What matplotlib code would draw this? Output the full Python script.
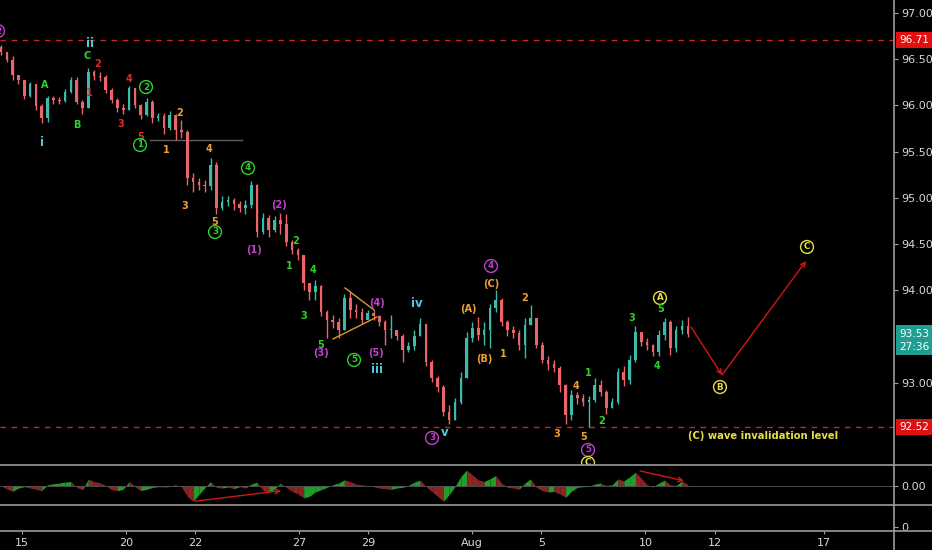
import matplotlib
matplotlib.use('Agg')
import matplotlib.pyplot as plt
from matplotlib.lines import Line2D
from matplotlib.transforms import blended_transform_factory as btf
import numpy as np

# ---------------- data ----------------
first_open = 96.63
closes = [96.58, 96.49, 96.33, 96.28, 96.10, 96.23, 95.99, 95.86, 96.08, 96.06,
          96.05, 96.15, 96.28, 96.04, 95.97, 96.36, 96.32, 96.31, 96.17, 96.06,
          95.97, 95.95, 96.19, 96.00, 95.90, 96.04, 95.86, 95.89, 95.76, 95.90,
          95.73, 95.71, 95.21, 95.17, 95.14, 95.13, 95.36, 94.89, 94.96, 94.98,
          94.93, 94.89, 94.92, 95.14, 94.63, 94.78, 94.65, 94.76, 94.72, 94.52,
          94.44, 94.38, 94.08, 93.98, 94.05, 93.76, 93.68, 93.66, 93.57, 93.92,
          93.79, 93.76, 93.68, 93.75, 93.72, 93.66, 93.57, 93.57, 93.50, 93.35,
          93.40, 93.50, 93.63, 93.22, 93.05, 92.95, 92.68, 92.60, 92.79, 93.05,
          93.48, 93.59, 93.51, 93.57, 93.81, 93.89, 93.66, 93.57, 93.54, 93.41,
          93.62, 93.70, 93.41, 93.24, 93.20, 93.16, 92.97, 92.65, 92.87, 92.83,
          92.79, 92.81, 92.97, 92.90, 92.72, 92.79, 93.11, 93.03, 93.24, 93.55,
          93.44, 93.41, 93.33, 93.51, 93.66, 93.37, 93.57, 93.61, 93.53]
highs = [96.65, 96.58, 96.53, 96.32, 96.28, 96.25, 96.23, 96.02, 96.10, 96.10,
         96.09, 96.18, 96.31, 96.31, 96.06, 96.40, 96.38, 96.36, 96.33, 96.19,
         96.08, 96.02, 96.21, 96.19, 96.02, 96.08, 96.06, 95.92, 95.92, 95.94,
         95.91, 95.84, 95.73, 95.27, 95.21, 95.19, 95.43, 95.39, 95.02, 95.02,
         95.00, 94.97, 94.98, 95.18, 95.15, 94.84, 94.81, 94.80, 94.84, 94.83,
         94.54, 94.46, 94.38, 94.08, 94.11, 94.06, 93.79, 93.73, 93.70, 93.96,
         93.98, 93.85, 93.81, 93.79, 93.79, 93.73, 93.68, 93.73, 93.57, 93.53,
         93.44, 93.57, 93.70, 93.61, 93.24, 93.07, 92.97, 92.76, 92.83, 93.11,
         93.55, 93.66, 93.71, 93.66, 93.85, 94.00, 93.92, 93.68, 93.61, 93.57,
         93.70, 93.84, 93.70, 93.44, 93.29, 93.24, 93.18, 92.98, 92.92, 92.90,
         92.88, 92.85, 93.05, 93.03, 92.92, 92.83, 93.16, 93.18, 93.30, 93.61,
         93.55, 93.48, 93.42, 93.57, 93.70, 93.68, 93.61, 93.68, 93.71]
lows = [96.55, 96.47, 96.28, 96.23, 96.07, 96.09, 95.95, 95.81, 95.82, 96.02,
        96.02, 96.04, 96.13, 96.02, 95.91, 95.97, 96.28, 96.26, 96.13, 96.03,
        95.93, 95.91, 95.95, 95.97, 95.85, 95.89, 95.81, 95.83, 95.69, 95.73,
        95.63, 95.65, 95.14, 95.06, 95.08, 95.06, 95.08, 94.83, 94.87, 94.91,
        94.87, 94.85, 94.83, 94.89, 94.58, 94.61, 94.58, 94.63, 94.61, 94.48,
        94.39, 94.33, 94.00, 93.89, 93.89, 93.72, 93.48, 93.59, 93.48, 93.57,
        93.70, 93.70, 93.63, 93.68, 93.68, 93.61, 93.41, 93.48, 93.46, 93.22,
        93.33, 93.35, 93.55, 93.18, 93.01, 92.90, 92.64, 92.55, 92.62, 92.77,
        93.05, 93.44, 93.46, 93.41, 93.37, 93.76, 93.61, 93.50, 93.48, 93.35,
        93.27, 93.62, 93.37, 93.21, 93.14, 93.11, 92.90, 92.55, 92.60, 92.77,
        92.75, 92.52, 92.79, 92.85, 92.66, 92.72, 92.77, 92.96, 92.98, 93.22,
        93.40, 93.35, 93.29, 93.29, 93.46, 93.30, 93.33, 93.53, 93.49]
osc = [0.0, -3.3, -5.7, -2.3, -1.0, -2.3, -3.7, -5.0, 1.0, 2.0,
       2.7, 3.7, 4.3, -1.7, -4.0, 6.7, 4.3, 3.0, 0.3, -4.0,
       -5.0, -3.7, 4.3, -0.7, -5.0, -3.7, -1.7, -1.0, -1.3, -0.7,
       1.0, -1.0, -10.7, -15.7, -9.0, -2.3, 4.3, -1.7, -2.3, -1.3,
       -3.0, -1.0, -2.3, 1.7, 3.7, -5.0, -6.3, -3.7, 2.7, -1.7,
       -5.7, -8.3, -12.3, -10.7, -6.3, -4.0, -1.7, 1.0, 2.7, 6.0,
       4.3, 1.7, 1.0, 0.0, -1.0, -2.3, -3.0, -3.7, -2.3, -1.7,
       0.3, 3.7, 5.7, -0.7, -5.7, -10.7, -15.7, -9.0, -0.7, 9.3,
       16.0, 11.0, 6.0, 4.3, 7.0, 10.3, 2.7, -1.7, -2.3, -3.7,
       2.7, 7.0, -1.7, -5.0, -6.3, -5.7, -8.3, -11.7, -5.7, -1.7,
       -1.0, -0.7, 1.7, 2.7, 0.3, 1.0, 7.0, 5.0, 9.0, 13.7,
       7.7, 1.0, -1.3, 2.7, 5.7, 1.0, 0.3, 5.0, 1.0]

date_labels = ['15', '20', '22', '27', '29', 'Aug', '5', '10', '12', '17']
date_pos = [0, 3, 5, 8, 10, 13, 15, 18, 20, 23.15]
price_ticks = [93.0, 94.0, 94.5, 95.0, 95.5, 96.0, 96.5, 97.0]
resistance_level = 96.71
invalidation_level = 92.52
last_price = 93.53
countdown = '27:36'
grey_level = 95.626
grey_span = [3.70, 6.356]

CY = '#4fc8dc'   # cyan
GR = '#2bd42b'   # green
RD = '#e02a2a'   # red
OR = '#f0a030'   # orange
MG = '#c040d0'   # magenta
YE = '#e8e040'   # yellow

# (text, day, price, colour, circled)
wave_labels = [
    ('2', -0.687, 96.805, MG, True),
    ('ii', 1.969, 96.665, CY, False),
    ('C', 1.882, 96.535, GR, False),
    ('2', 2.199, 96.448, RD, False),
    ('A', 0.670, 96.221, GR, False),
    ('1', 1.940, 96.135, RD, False),
    ('4', 3.094, 96.286, RD, False),
    ('2', 3.585, 96.199, GR, True),
    ('B', 1.593, 95.788, GR, False),
    ('3', 2.863, 95.799, RD, False),
    ('i', 0.583, 95.604, CY, False),
    ('5', 3.441, 95.658, RD, False),
    ('1', 3.412, 95.572, GR, True),
    ('1', 4.162, 95.518, OR, False),
    ('2', 4.566, 95.918, OR, False),
    ('4', 5.403, 95.528, OR, False),
    ('4', 6.529, 95.323, GR, True),
    ('3', 4.711, 94.911, OR, False),
    ('5', 5.577, 94.738, OR, False),
    ('3', 5.577, 94.630, GR, True),
    ('(2)', 7.424, 94.922, MG, False),
    ('(1)', 6.702, 94.435, MG, False),
    ('2', 7.914, 94.533, GR, False),
    ('1', 7.712, 94.262, GR, False),
    ('4', 8.405, 94.219, GR, False),
    ('3', 8.145, 93.721, GR, False),
    ('5', 8.636, 93.410, GR, False),
    ('(3)', 8.636, 93.320, MG, False),
    ('5', 9.589, 93.245, GR, True),
    ('(4)', 10.253, 93.862, MG, False),
    ('(5)', 10.224, 93.320, MG, False),
    ('iii', 10.253, 93.147, CY, False),
    ('iv', 11.407, 93.851, CY, False),
    ('3', 11.840, 92.401, MG, True),
    ('v', 12.216, 92.455, CY, False),
    ('(A)', 12.880, 93.797, OR, False),
    ('4', 13.544, 94.262, MG, True),
    ('(C)', 13.544, 94.067, OR, False),
    ('(B)', 13.341, 93.255, OR, False),
    ('1', 13.890, 93.310, OR, False),
    ('2', 14.525, 93.916, OR, False),
    ('3', 15.449, 92.444, OR, False),
    ('4', 15.997, 92.963, OR, False),
    ('1', 16.343, 93.104, GR, False),
    ('5', 16.228, 92.411, OR, False),
    ('5', 16.343, 92.271, MG, True),
    ('C', 16.343, 92.130, YE, True),
    ('2', 16.747, 92.585, GR, False),
    ('3', 17.613, 93.699, GR, False),
    ('A', 18.421, 93.916, YE, True),
    ('5', 18.450, 93.797, GR, False),
    ('4', 18.335, 93.180, GR, False),
    ('B', 20.152, 92.952, YE, True),
    ('C', 22.664, 94.468, YE, True),
]
projection_path = [(19.316, 93.602), (20.211, 93.082), (22.635, 94.316)]
triangle_upper = [(9.329, 94.024), (10.166, 93.786)]
triangle_lower = [(8.983, 93.472), (10.253, 93.710)]
osc_arrows = [((4.999, -15.7), (7.481, -5.0)), ((17.844, 15.0), (19.114, 5.0))]
invalidation_text = ('(C) wave invalidation level', 21.394, 92.422)

# ---------------- figure ----------------
W, H = 932, 550
fig = plt.figure(figsize=(W / 100, H / 100), dpi=100, facecolor='black')
right = 894 / W
ax = fig.add_axes([0, 1 - 465 / H, right, 465 / H], facecolor='black')
axo = fig.add_axes([0, 1 - 505 / H, right, 40 / H], facecolor='black', sharex=ax)
axv = fig.add_axes([0, 1 - 531 / H, right, 26 / H], facecolor='black', sharex=ax)

for a in (ax, axo, axv):
    for s in a.spines.values():
        s.set_visible(False)
    a.yaxis.tick_right()
    a.tick_params(axis='y', colors='#a0a0a0', labelcolor='#d8d8d8', labelsize=8,
                  length=3, pad=2)
    a.tick_params(axis='x', bottom=False, labelbottom=False)

ax.set_xlim(-0.629, 25.175)
ax.set_ylim(92.108, 97.141)

# candles
n = len(closes)
t = -0.60 + 0.168 * np.arange(n)
c = np.array(closes)
o = np.array([first_open] + closes[:-1])
hi = np.maximum(np.array(highs), np.maximum(o, c))
lo = np.minimum(np.array(lows), np.minimum(o, c))
UP, DN = '#3bbcab', '#ea6468'
cols = np.where(c >= o, UP, DN)
ax.vlines(t, lo, hi, colors=cols, lw=1.0, zorder=2)
ax.bar(t, np.maximum(np.abs(c - o), 0.012), bottom=np.minimum(o, c), width=0.075,
       color=cols, linewidth=0, zorder=2)

# levels
ax.axhline(resistance_level, color='#c62828', lw=1, ls=(0, (4, 4)), zorder=1)
ax.axhline(invalidation_level, color='#c62828', lw=1, ls=(0, (4, 4)), zorder=1)
ax.plot(grey_span, [grey_level, grey_level], color='#606060', lw=1, zorder=1)

# triangle
ax.plot(*zip(*triangle_upper), color='#d89a30', lw=1, zorder=3)
ax.plot(*zip(*triangle_lower), color='#d89a30', lw=1, zorder=3)

# projection arrows
for p0, p1 in zip(projection_path[:-1], projection_path[1:]):
    ax.annotate('', xy=p1, xytext=p0,
                arrowprops=dict(arrowstyle='->', color='#d01818', lw=1,
                                shrinkA=0, shrinkB=0, mutation_scale=8))

# wave labels
for txt, d, p, col, circ in wave_labels:
    if circ:
        ax.text(d, p, txt, color=col, ha='center', va='center', fontsize=6.3,
                fontweight='bold', clip_on=True, zorder=4,
                bbox=dict(boxstyle='circle,pad=0.22', fc='none', ec=col, lw=1))
    else:
        fs = 8.5 if col == CY else 7
        ax.text(d, p, txt, color=col, ha='center', va='center', fontsize=fs,
                fontweight='bold', clip_on=True, zorder=4)

ax.text(invalidation_text[1], invalidation_text[2], invalidation_text[0], color=YE,
        ha='center', va='center', fontsize=7.2, fontweight='bold', zorder=4)

# price axis
ax.set_yticks(price_ticks)
ax.set_yticklabels(['%.2f' % v for v in price_ticks])
tr = btf(ax.transAxes, ax.transData)
for val, fc in ((resistance_level, '#e01010'), (invalidation_level, '#e01010'),
                (last_price, '#1f9e92')):
    ax.annotate('%.2f' % val, xy=(1, val), xycoords=tr, xytext=(3.6, 0),
                textcoords='offset points', color='white', fontsize=7.6,
                ha='left', va='center', annotation_clip=False,
                bbox=dict(boxstyle='square,pad=0.3', fc=fc, ec='none'))
ax.annotate(countdown, xy=(1, last_price), xycoords=tr, xytext=(3.6, -9.8),
            textcoords='offset points', color='white', fontsize=7.6,
            ha='left', va='center', annotation_clip=False,
            bbox=dict(boxstyle='square,pad=0.3', fc='#1f9e92', ec='none'))

# oscillator
axo.set_ylim(-19.5, 21)
v = np.array(osc)
for i in range(n - 1):
    col = '#1f9e2a' if v[i + 1] >= v[i] else '#8e2323'
    axo.fill_between(t[i:i + 2], 0, v[i:i + 2], color=col, lw=0)
axo.axhline(0, color='#555555', lw=0.6)
for p0, p1 in osc_arrows:
    axo.annotate('', xy=p1, xytext=p0,
                 arrowprops=dict(arrowstyle='->', color='#d01818', lw=1,
                                 shrinkA=0, shrinkB=0, mutation_scale=8))
axo.set_yticks([0])
axo.set_yticklabels(['0.00'])

# bottom (empty) pane + date axis
axv.set_ylim(-0.15, 0.85)
axv.set_yticks([0])
axv.set_yticklabels(['0'])
axv.set_xticks(date_pos)
axv.set_xticklabels(date_labels)
axv.tick_params(axis='x', bottom=True, labelbottom=True, colors='#a0a0a0',
                labelcolor='#d8d8d8', labelsize=8, length=2, pad=3)

# pane separators and price-scale border
for yy in (465, 505, 531):
    fig.add_artist(Line2D([0, 1], [1 - yy / H] * 2, color='#9a9a9a', lw=1.2))
fig.add_artist(Line2D([right, right], [0, 1], color='#9a9a9a', lw=1.2))

fig.savefig('out.png', dpi=100, facecolor='black')
